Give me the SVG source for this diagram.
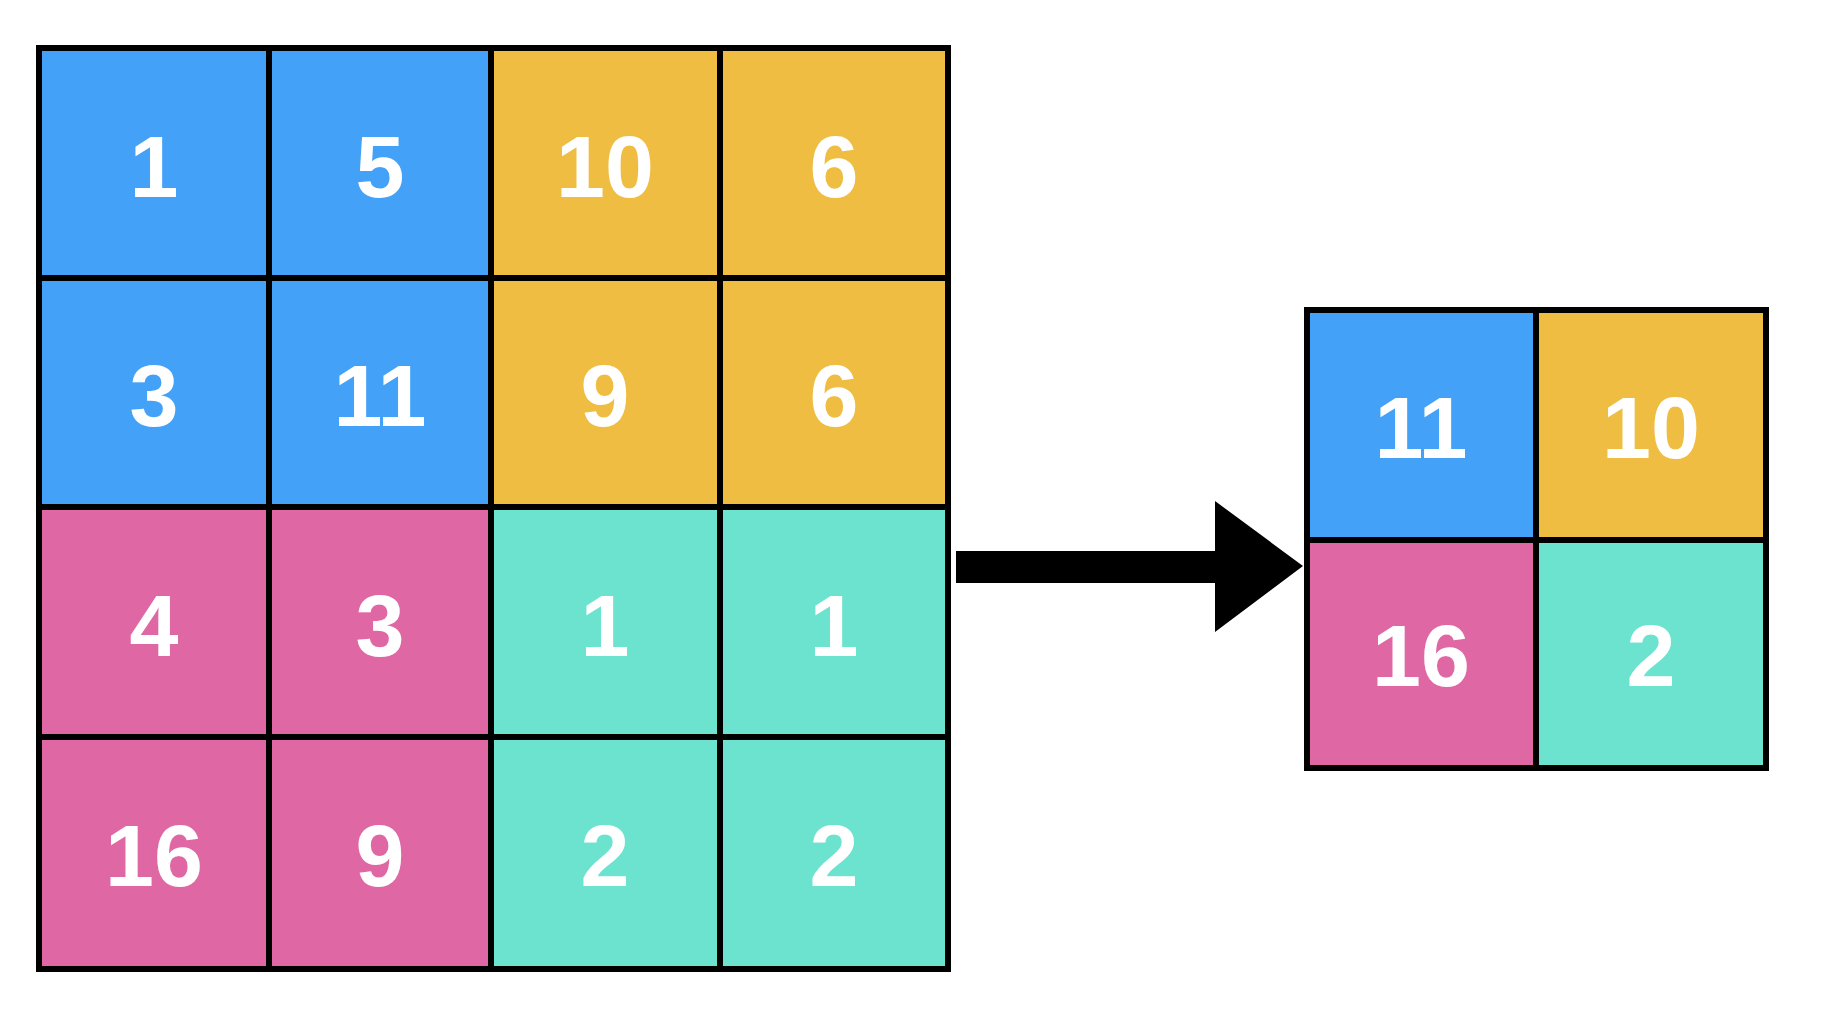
<svg xmlns="http://www.w3.org/2000/svg" width="1828" height="1010" viewBox="0 0 1828 1010">
<style>
.c{stroke:#000;stroke-width:6}
.b{fill:#44a1f8}.y{fill:#eebd41}.p{fill:#df68a4}.t{fill:#6ce3cf}
text{font-family:"Liberation Sans",Arial,sans-serif;font-weight:bold;font-size:88px;fill:#fff;text-anchor:middle}
</style>
<rect width="1828" height="1010" fill="#fff"/>
<g id="big">
<g id="r1"><rect class="c b" x="39" y="48" width="230" height="230"/><rect class="c b" x="269" y="48" width="222" height="230"/><rect class="c y" x="491" y="48" width="229" height="230"/><rect class="c y" x="720" y="48" width="228" height="230"/>
<text x="154" y="197">1</text><text x="380" y="197">5</text><text x="605" y="197">10</text><text x="834" y="197">6</text></g>
<g id="r2"><rect class="c b" x="39" y="278" width="230" height="229"/><rect class="c b" x="269" y="278" width="222" height="229"/><rect class="c y" x="491" y="278" width="229" height="229"/><rect class="c y" x="720" y="278" width="228" height="229"/>
<text x="154" y="426">3</text><text x="380" y="426">11</text><text x="605" y="426">9</text><text x="834" y="426">6</text></g>
<g id="r3"><rect class="c p" x="39" y="507" width="230" height="230"/><rect class="c p" x="269" y="507" width="222" height="230"/><rect class="c t" x="491" y="507" width="229" height="230"/><rect class="c t" x="720" y="507" width="228" height="230"/>
<text x="154" y="656">4</text><text x="380" y="656">3</text><text x="605" y="656">1</text><text x="834" y="656">1</text></g>
<g id="r4"><rect class="c p" x="39" y="737" width="230" height="232"/><rect class="c p" x="269" y="737" width="222" height="232"/><rect class="c t" x="491" y="737" width="229" height="232"/><rect class="c t" x="720" y="737" width="228" height="232"/>
<text x="154" y="886">16</text><text x="380" y="886">9</text><text x="605" y="886">2</text><text x="834" y="886">2</text></g>
</g>
<g id="connectors"><path d="M956 551H1215V501L1303 566L1215 632V583H956Z" fill="#000"/></g>
<g id="small">
<rect class="c b" x="1307" y="310" width="229" height="230"/><rect class="c y" x="1536" y="310" width="230" height="230"/>
<rect class="c p" x="1307" y="540" width="229" height="228"/><rect class="c t" x="1536" y="540" width="230" height="228"/>
<text x="1421" y="458">11</text><text x="1651" y="458">10</text><text x="1421" y="686">16</text><text x="1651" y="686">2</text>
</g>
</svg>
